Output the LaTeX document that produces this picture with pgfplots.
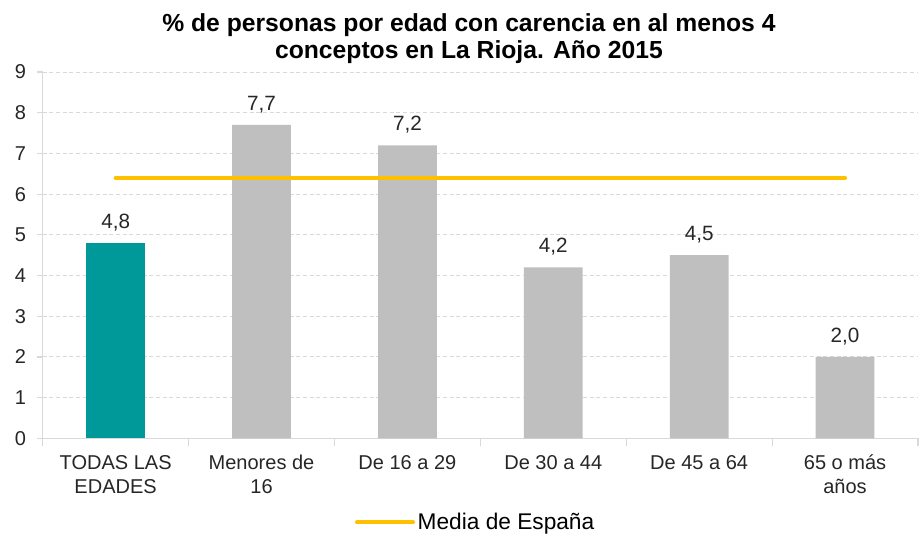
\documentclass[border=0pt]{standalone}
\usepackage{fontspec}
\setmainfont{Liberation Sans}
\usepackage{pgfplots}
\pgfplotsset{compat=1.18}
\usetikzlibrary{calc}
\definecolor{teal1}{HTML}{009999}
\definecolor{gray1}{HTML}{BFBFBF}
\definecolor{yel}{HTML}{FFC000}
\definecolor{axc}{HTML}{D9D9D9}
\definecolor{txt}{HTML}{262626}
\begin{document}
\begin{tikzpicture}
\begin{axis}[
  name=ax,
  scale only axis, width=656pt, height=274.5pt,
  xmin=-0.5, xmax=5.5, ymin=0, ymax=9,
  axis x line=bottom, axis y line=left,
  axis line style={draw=axc, line width=0.9pt, -},
  /pgf/number format/assume math mode=true,
  ytick={0,...,9},
  xtick={0,...,5},
  xticklabels={{TODAS LAS\\EDADES},{Menores de\\16},{De 16 a 29},{De 30 a 44},{De 45 a 64},{65 o más\\años}},
  xticklabel style={align=center, font=\fontsize{15}{18}\selectfont, text=txt, anchor=north, yshift=-5pt},
  yticklabel style={font=\fontsize{15}{17}\selectfont, text=txt, xshift=-5pt},
  major x tick style={draw=none},
  minor xtick={-0.5,0.5,...,5.5},
  tick align=outside,
  minor tick length=6pt,
  major tick length=4pt,
  tick style={draw=axc, line width=0.9pt},
  ymajorgrids,
  major grid style={draw=axc, line width=0.7pt, dash pattern=on 3pt off 2pt},
  legend style={at={(0.495,-0.2295)}, anchor=center, draw=none, fill=none,
    font=\fontsize{17}{19}\selectfont, text=black, inner xsep=0pt,
    /tikz/every even column/.append style={column sep=0pt}},
  legend cell align=left,
  legend image code/.code={\draw[yel, line width=3pt, line cap=round] (0pt,0pt) -- (42pt,0pt);},
  title={\% de personas por edad con carencia en al menos 4\\conceptos en La Rioja. Año 2015},
  title style={at={(0.487,1)}, anchor=south, yshift=-2pt, inner sep=2pt, align=center,
    font=\bfseries\fontsize{18.5}{20.5}\selectfont},
  nodes near coords={\pgfmathprintnumber[fixed,fixed zerofill,precision=1,use comma]{\pgfplotspointmeta}},
  every node near coord/.append style={font=\fontsize{15.5}{17}\selectfont, text=txt, yshift=5.5pt},
]
\addplot[ybar, bar width=44pt, bar shift=0pt, fill=teal1, draw=none, forget plot] coordinates {(0,4.8)};
\addplot[ybar, bar width=44pt, bar shift=0pt, fill=gray1, draw=none, forget plot] coordinates {(1,7.7) (2,7.2) (3,4.2) (4,4.5) (5,2.0)};
\addplot[yel, line width=3pt, line cap=round, mark=none, nodes near coords={}] coordinates {(0,6.4) (5,6.4)};
\addlegendentry{Media de España}
\end{axis}
\path ($(ax.south west)+(-32pt,-73pt)$) rectangle ($(ax.north east)+(1.5pt,54pt)$);
\end{tikzpicture}
\end{document}
